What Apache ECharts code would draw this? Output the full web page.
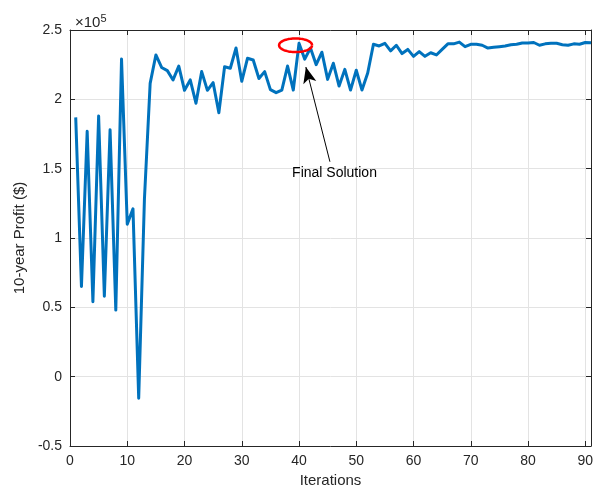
<!DOCTYPE html>
<html>
<head>
<meta charset="utf-8">
<script src="https://cdn.jsdelivr.net/npm/echarts@6/dist/echarts.min.js"></script>
<style>html,body{margin:0;padding:0;background:#fff}#c{width:602px;height:496px}</style>
</head>
<body>
<div id="c"></div>
<script>
// iterations 1..91
const iterations = Array.from({length: 91}, (_, i) => i + 1);
// 10-year profit, in units of 1e5 $
const profit = [
  1.87, 0.65, 1.77, 0.54, 1.88, 0.58, 1.78, 0.48, 2.29, 1.10,
  1.21, -0.155, 1.28, 2.115, 2.32, 2.23, 2.207, 2.14, 2.24, 2.065,
  2.14, 1.972, 2.2, 2.065, 2.12, 1.903, 2.235, 2.224, 2.37, 2.13,
  2.296, 2.284, 2.15, 2.2, 2.07, 2.048, 2.067, 2.24, 2.067, 2.404,
  2.29, 2.37, 2.25, 2.34, 2.144, 2.26, 2.096, 2.216, 2.067, 2.21,
  2.067, 2.19, 2.397, 2.385, 2.404, 2.35, 2.39, 2.33, 2.36, 2.31,
  2.344, 2.31, 2.336, 2.32, 2.36, 2.40, 2.40, 2.413, 2.38, 2.397,
  2.397, 2.39, 2.37, 2.375, 2.38, 2.385, 2.394, 2.397, 2.406, 2.406,
  2.41, 2.39, 2.40, 2.404, 2.404, 2.394, 2.39, 2.40, 2.397, 2.41,
  2.408
];
const yTicks = ['-0.5', '0', '0.5', '1', '1.5', '2', '2.5'];
const xTicks = ['0', '10', '20', '30', '40', '50', '60', '70', '80', '90'];
// annotation anchors (data coords)
const ellipseCenter = [39.4, 2.39];
const arrowTail = [45.4, 1.55];
const arrowTip = [41.2, 2.233];
const labelPos = [46.2, 1.468];
const labelText = 'Final Solution';

const font = 'Liberation Sans, Arial, Helvetica, sans-serif';
const axisCol = '#262626';
const chart = echarts.init(document.getElementById('c'));
const fmtY = v => String(Math.round(v * 10) / 10);
const baseX = {
  type: 'value', min: 0, max: 91, interval: 10,
  axisLine: {show: true, onZero: false, lineStyle: {color: axisCol, width: 1}},
  axisTick: {show: true, inside: true, length: 5, lineStyle: {color: axisCol}},
  splitLine: {show: false},
  axisLabel: {show: false}
};
const baseY = {
  type: 'value', min: -0.5, max: 2.5, interval: 0.5,
  axisLine: {show: true, onZero: false, lineStyle: {color: axisCol, width: 1}},
  axisTick: {show: true, inside: true, length: 5, lineStyle: {color: axisCol}},
  splitLine: {show: false},
  axisLabel: {show: false}
};
chart.setOption({
  animation: false,
  backgroundColor: '#fff',
  textStyle: {fontFamily: font},
  grid: {left: 70, right: 11, top: 30, bottom: 50, containLabel: false},
  title: {
    text: '×10{s|5}',
    left: 70, top: 8,
    textStyle: {fontFamily: font, fontSize: 15, fontWeight: 'normal', color: axisCol,
      rich: {s: {fontSize: 11, verticalAlign: 'top', padding: [0, 0, 9, 0], color: axisCol, fontFamily: font}}}
  },
  xAxis: [
    Object.assign({}, baseX, {
      position: 'bottom',
      name: 'Iterations', nameLocation: 'middle', nameGap: 26,
      nameTextStyle: {fontFamily: font, fontSize: 15, color: axisCol},
      splitLine: {show: true, lineStyle: {color: '#e3e3e3', width: 1}},
      axisLabel: {show: true, fontFamily: font, fontSize: 14, color: axisCol, margin: 8,
        formatter: v => xTicks.indexOf(String(v)) >= 0 ? String(v) : '', showMaxLabel: false}
    }),
    Object.assign({}, baseX, {position: 'top'})
  ],
  yAxis: [
    Object.assign({}, baseY, {
      position: 'left',
      name: '10-year Profit ($)', nameLocation: 'middle', nameGap: 39, nameRotate: 90,
      nameTextStyle: {fontFamily: font, fontSize: 15, color: axisCol},
      splitLine: {show: true, lineStyle: {color: '#e3e3e3', width: 1}},
      axisLabel: {show: true, fontFamily: font, fontSize: 14, color: axisCol, margin: 8,
        formatter: v => fmtY(v)}
    }),
    Object.assign({}, baseY, {position: 'right'})
  ],
  series: [{
    type: 'line',
    data: iterations.map((x, i) => [x, profit[i]]),
    showSymbol: false,
    symbol: 'none',
    lineStyle: {color: '#0072BD', width: 3, join: 'round'},
    itemStyle: {color: '#0072BD'},
    z: 3,
    markLine: {
      silent: true,
      animation: false,
      symbol: ['none', 'arrow'],
      symbolSize: [10, 16],
      lineStyle: {color: '#000', width: 1, type: 'solid'},
      label: {show: false},
      data: [[{coord: arrowTail}, {coord: arrowTip}]]
    }
  }]
});

function drawAnnot() {
  const c = chart.convertToPixel({xAxisIndex: 0, yAxisIndex: 0}, ellipseCenter);
  const rx = 16.5, ry = 6.8;
  const pts = [];
  for (let k = 0; k <= 72; k++) {
    const a = k / 72 * Math.PI * 2;
    pts.push([c[0] + rx * Math.cos(a), c[1] + ry * Math.sin(a)]);
  }
  const t = chart.convertToPixel({xAxisIndex: 0, yAxisIndex: 0}, labelPos);
  chart.setOption({
    graphic: [
      {type: 'polyline', shape: {points: pts}, style: {stroke: '#ff0000', lineWidth: 2.5, fill: null}, z: 10},
      {type: 'text', x: t[0], y: t[1], style: {text: labelText, fontFamily: font, fontSize: 14,
        fill: '#000', textAlign: 'center', textVerticalAlign: 'middle'}, z: 10}
    ]
  });
}
drawAnnot();
</script>
</body>
</html>
